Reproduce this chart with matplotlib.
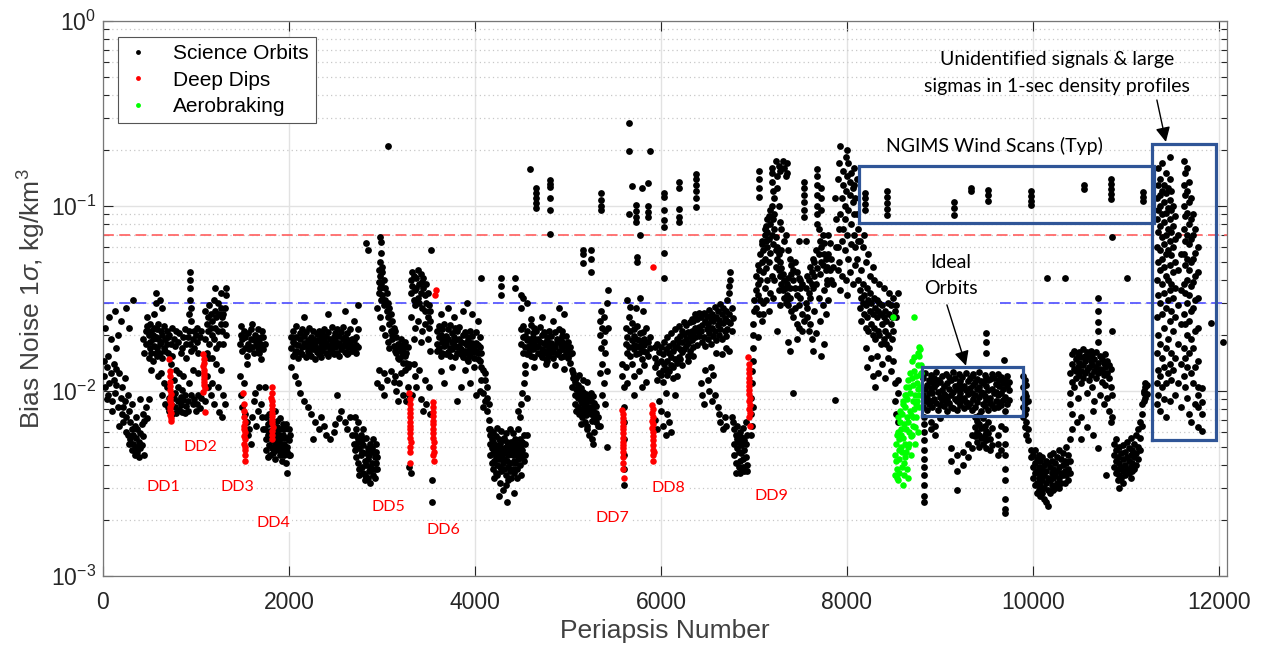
import matplotlib
matplotlib.use("Agg")
import matplotlib.pyplot as plt
from matplotlib.lines import Line2D
from matplotlib.ticker import LogLocator, NullFormatter, FixedLocator

plt.rcParams['font.family'] = ['Liberation Sans', 'DejaVu Sans']
plt.rcParams['mathtext.fontset'] = 'custom'
plt.rcParams['mathtext.rm'] = 'Liberation Sans'
plt.rcParams['mathtext.it'] = 'Liberation Sans:italic'
plt.rcParams['axes.unicode_minus'] = False

# ---- science orbits: (periapsis, [bias noise values]) -------------------
sci_early = [
    (10, [.012, .0145]), (25, [.0105, .022]), (40, [.0135, .009]), (55, [.0095, .0155]),
    (70, [.011, .025]), (85, [.0125, .019]), (100, [.0088, .0078]), (115, [.0115, .014]),
    (130, [.0098, .027]), (145, [.0108, .0132, .017]), (160, [.0082, .02]), (175, [.0125, .0065]),
    (190, [.0092, .024]), (205, [.0075, .0105]), (220, [.0068, .0082]), (235, [.0088, .0118]),
    (250, [.0072, .006, .028]), (265, [.0095, .0058]), (280, [.0078, .0052, .022]), (295, [.0068, .0055]),
    (310, [.0062, .0048, .0085]), (325, [.0058, .0052, .031]), (340, [.0045, .0065]),
    (355, [.005, .0072, .0056]), (370, [.0047, .0062]), (385, [.0053, .0044]),
    (400, [.0049, .0059, .009]), (415, [.0066, .0051]), (430, [.0057, .0075, .019]),
    (445, [.0069, .0045, .016]), (460, [.0082, .021, .018]), (475, [.0071, .0225, .025]),
    (490, [.009, .015, .02]), (505, [.017, .023, .0185]),
    (520, [.016, .021, .013]), (535, [.019, .0145, .02]), (550, [.0175, .022, .026]),
    (565, [.016, .0195, .034, .03]), (580, [.0215, .017, .0155]), (595, [.019, .023, .012]),
    (610, [.018, .016, .031]), (625, [.021, .0185, .0125]), (640, [.015, .02, .028, .0095]),
    (655, [.017, .0225, .011]), (670, [.0165, .019, .0085]), (685, [.018, .021, .0105]),
    (700, [.0195, .016, .0082]),
    (715, [.02, .0078, .0092]), (730, [.018, .0085, .014]), (745, [.022, .0075, .0155]),
    (760, [.019, .0092, .0115]), (775, [.0175, .0082, .0098]), (790, [.021, .0076, .013]),
    (805, [.0185, .0088, .0105]), (820, [.0205, .0079, .0125]), (835, [.016, .0093, .0084]),
    (850, [.017, .0077, .0101]), (865, [.0195, .0089, .012]), (880, [.0215, .0076, .0095]),
    (895, [.018, .0083, .015]), (910, [.0195, .0078, .0088]), (925, [.021, .011, .026]),
    (935, [.031, .036, .044, .04, .018]), (950, [.024, .028, .0165, .0095]),
    (965, [.019, .013, .0085]), (980, [.017, .009, .021]), (995, [.02, .0078]),
    (1010, [.0185, .022, .0085]), (1025, [.016, .0125, .0095]), (1040, [.0195, .0081]),
    (1055, [.021, .0092]),
    (1100, [.019, .027, .0088]), (1115, [.023, .016, .012]), (1130, [.021, .025, .0105]),
    (1145, [.018, .029, .015]), (1160, [.022, .026, .0095]), (1175, [.02, .024, .015, .011]),
    (1190, [.031, .019, .0085]), (1205, [.027, .022, .036]), (1220, [.017, .025, .014]),
    (1235, [.03, .021, .0105]), (1250, [.026, .018, .0077]), (1265, [.023, .028, .034, .013]),
    (1280, [.021, .025, .0072]), (1295, [.018, .026, .0095]), (1310, [.023, .028, .0085]),
    (1325, [.033, .036, .02]),
]

sci_1500 = [
    (1470, [.018, .012]), (1485, [.02, .0095, .0225]), (1500, [.0165, .0082, .019]),
    (1515, [.021, .011]), (1530, [.017, .0075, .0195]), (1545, [.0155, .0068, .014]),
    (1560, [.018, .0058, .0205]), (1575, [.0168, .0062]), (1590, [.019, .0052, .0215]),
    (1605, [.0172, .0072, .023]), (1620, [.0188, .0088, .016]), (1635, [.02, .0098]),
    (1650, [.0178, .0065, .0195]), (1665, [.0215, .0078, .017]), (1680, [.016, .0105, .0185]),
    (1695, [.0195, .0085, .0148]), (1710, [.0178, .0072, .021]), (1725, [.0195, .0062, .0168]),
    (1740, [.018, .0105, .0062]),
    (1755, [.0055, .0072, .0048]), (1770, [.0066, .0044, .0058]), (1785, [.0051, .0075, .006]),
    (1800, [.0045, .0061, .0068]), (1815, [.0054, .0049]), (1830, [.0068, .0057, .0046]),
    (1845, [.0052, .0078, .0043]), (1860, [.006, .0055, .0048]), (1875, [.0064, .005, .0069]),
    (1890, [.0048, .0058, .0053]), (1905, [.0045, .0062, .0071]), (1920, [.0056, .0042, .005]),
    (1935, [.0066, .0047, .0058]), (1950, [.0045, .0062, .0052]), (1965, [.0056, .0041, .0066]),
    (1980, [.005, .0047, .0036]), (1995, [.0054, .0045, .0062]), (2010, [.0045, .0058]),
    (2020, [.017, .0195, .0135]), (2040, [.0155, .0185, .021]), (2060, [.016, .018, .012]),
    (2080, [.0225, .0165, .0195]), (2100, [.015, .0178, .011]), (2120, [.0205, .0162, .019, .0098]),
    (2140, [.0172, .0215, .0158]), (2160, [.0182, .0198, .025, .0088]), (2180, [.0152, .0176, .0208]),
    (2200, [.0165, .0188, .017, .0082]), (2220, [.0218, .016, .0185]), (2240, [.0195, .0155, .0178, .0075]),
    (2260, [.021, .0168, .0192, .0055]), (2280, [.0175, .0148, .0182, .0068]), (2300, [.0202, .0162, .0188]),
    (2320, [.017, .0212, .0158, .0062]), (2340, [.0185, .0196, .0152, .0072]), (2360, [.0178, .0205, .0165]),
    (2380, [.0188, .0172, .0215, .0065]), (2400, [.016, .0182, .0198, .0058]), (2420, [.0155, .0176, .0208, .026]),
    (2440, [.0168, .019, .0174, .0055]), (2460, [.0222, .0162, .0186]), (2480, [.0195, .0158, .018, .006]),
    (2500, [.0205, .0172, .0188, .0066]), (2520, [.016, .0215, .0178, .0095]), (2540, [.0182, .0198, .0155, .0071]),
    (2560, [.0176, .0208, .0168, .0078]), (2580, [.019, .0174, .0222]), (2600, [.0162, .0186, .0195, .027, .0068]),
    (2620, [.0158, .018, .0205, .0062]), (2640, [.0172, .0188, .016]), (2660, [.0215, .0178, .0185, .0072]),
    (2680, [.0165, .0192, .0175, .0058]), (2700, [.0188, .0168, .024, .0052]), (2720, [.016, .0195, .0178]),
    (2740, [.0215, .0172, .029]),
]

sci_2700 = [
    (2710, [.0058, .0048, .0072]), (2725, [.0052, .0044, .0062]), (2740, [.0055, .0041, .0068]),
    (2755, [.0049, .0038, .0035]), (2770, [.0053, .0045, .0058]), (2785, [.0039, .0047, .0054]),
    (2800, [.0036, .0051, .0062]), (2815, [.0042, .0035, .0033]), (2830, [.0046, .004, .0056, .063]),
    (2845, [.0034, .0049, .0043, .058]), (2860, [.0037, .0045, .0048]), (2875, [.0039, .0052, .0032]),
    (2890, [.0041, .0049, .0038]), (2905, [.0047, .0055, .0035]), (2920, [.0038, .0044, .0034]),
    (2935, [.0052, .0041, .0047]), (2950, [.0038, .0044, .028, .011]),
    (2965, [.034, .039, .045, .013]), (2980, [.036, .042, .05, .068, .025]),
    (2990, [.031, .038, .064, .056, .0105]), (3005, [.044, .033, .022, .047]),
    (3020, [.04, .029, .0125, .0095]), (3035, [.036, .031, .02]), (3050, [.027, .034, .0115]),
    (3065, [.025, .03, .0185, .21]), (3080, [.023, .028, .017]), (3095, [.021, .026, .0128]),
    (3110, [.02, .024, .019]), (3125, [.022, .0175, .0112]), (3140, [.021, .0165, .012]),
    (3155, [.0195, .016, .01]), (3170, [.018, .015, .0088]), (3185, [.0172, .0148, .011]),
    (3200, [.0165, .019, .0125]), (3215, [.0155, .0178]), (3230, [.017, .0142, .0095]),
    (3245, [.0185, .0155, .013]), (3260, [.016, .0142, .0088]), (3275, [.0135, .0172, .0105]),
    (3290, [.014, .0095, .0039]),
    (3310, [.04, .034, .025, .0036]), (3325, [.044, .037, .0095]), (3340, [.031, .042, .019, .014]),
    (3355, [.035, .029, .022, .012]), (3370, [.041, .036, .0105]), (3385, [.032, .045, .024]),
    (3400, [.038, .03, .013]), (3415, [.043, .034, .0185, .009]), (3430, [.039, .028, .021]),
    (3445, [.036, .041, .0078]), (3460, [.033, .027, .023, .0115]), (3475, [.038, .03, .0085]),
    (3490, [.034, .025, .019]), (3505, [.029, .022, .0105]), (3520, [.027, .024, .0165, .0075]),
    (3530, [.058]), (3540, [.0025, .0033]),
]

sci_3600 = [
    (3590, [.018, .021, .0165]), (3610, [.0195, .0225, .017]), (3630, [.02, .0155, .026, .0128]),
    (3650, [.0185, .0215, .016]), (3670, [.019, .0175, .023, .011]), (3690, [.0158, .0198, .018]),
    (3710, [.0215, .0162, .028, .0192]), (3730, [.017, .0228, .0155]), (3750, [.0185, .0205, .0135, .0168]),
    (3770, [.0195, .0178, .025]), (3790, [.0218, .0152, .0188]), (3810, [.0172, .021, .016, .0088]),
    (3830, [.0192, .0175, .0222]), (3850, [.0158, .0185, .0168, .0105]), (3870, [.02, .0152, .027]),
    (3890, [.0182, .0165, .0208, .013]), (3910, [.0148, .0178, .016, .03]), (3930, [.0195, .0145, .0188]),
    (3950, [.017, .0212, .0155, .011]), (3970, [.0182, .0165, .0198, .026]), (3990, [.015, .0175, .0162, .0135]),
    (4010, [.0182, .0165, .0208, .0095]), (4030, [.0148, .0178, .016, .024]), (4050, [.0195, .0145, .0172, .01]),
    (4070, [.016, .0135, .0115]), (4090, [.013, .0098, .0082]), (4110, [.0115, .0088, .0125]),
    (4130, [.0105, .0078, .0092]), (4150, [.007, .0085, .0062]),
    (4165, [.0052, .0045, .0062, .0058]), (4180, [.0041, .0049, .0055]), (4195, [.0038, .0046, .006, .0053]),
    (4210, [.0042, .0048, .0034]), (4225, [.0036, .0051, .0044, .0057]), (4240, [.004, .0047, .0035, .0063]),
    (4255, [.0043, .0027, .005, .0055]), (4270, [.0039, .0046, .0052, .0032]), (4285, [.0037, .0045, .0049, .0061]),
    (4300, [.0041, .0054, .0029, .0047]), (4315, [.0038, .0046, .0043, .0056]), (4330, [.0035, .005, .0031, .0059]),
    (4345, [.0042, .0048, .0025, .0053]), (4360, [.0039, .0045, .0052, .0033]), (4375, [.0037, .0049, .0041, .0062]),
    (4390, [.0046, .0053, .0034]), (4405, [.0038, .0045, .0059, .0049]), (4420, [.0042, .0028, .0051, .0036]),
    (4435, [.0047, .0041, .0055]), (4450, [.0038, .0052, .0045, .0034]), (4465, [.0043, .0049, .0062, .0078]),
    (4480, [.004, .0046, .0055, .0072]), (4495, [.0051, .0044, .0035, .0085]), (4510, [.0048, .0053, .0098]),
    (4525, [.0042, .0058, .011]), (4540, [.0045, .0052, .0125]), (4555, [.0058, .0092]),
]

sci_4500 = [
    (4500, [.018, .0215, .028, .033]), (4520, [.016, .0195, .0225, .032]), (4540, [.0172, .0198, .0138]),
    (4560, [.0158, .0188, .021, .03]), (4580, [.0165, .0192, .0175]), (4600, [.0228, .0155, .0185, .0245]),
    (4620, [.0205, .0168, .0195]), (4640, [.0178, .0218, .0152, .0135]), (4660, [.0188, .0172, .021]),
    (4680, [.016, .0192, .0175]), (4700, [.0222, .0158, .0185]), (4720, [.0168, .02, .025, .0152]),
    (4740, [.0182, .0165, .0208]), (4760, [.0148, .0178, .016, .014]), (4780, [.0195, .0145, .0188]),
    (4800, [.017, .0212, .0155]), (4820, [.0182, .0165, .0198]), (4840, [.015, .0175, .0162, .024]),
    (4860, [.0208, .0172, .0138]), (4880, [.0185, .0158, .0192]), (4900, [.0165, .0215, .028]),
    (4920, [.0178, .0152, .0188]), (4940, [.0198, .0168, .0212]), (4960, [.0155, .0182, .0132, .026]),
    (4980, [.0175, .0162, .0198]), (5000, [.015, .0185, .0165]), (5020, [.0142, .0172, .0158]),
    (5040, [.013, .016, .0105]), (5055, [.0118, .0125]),
    (5075, [.0112, .0095, .0085]), (5090, [.0102, .0078, .0118]), (5105, [.0092, .0108, .0082]),
    (5120, [.0097, .0075, .0122]), (5135, [.0088, .0104, .008, .0066]), (5150, [.0094, .0072, .0086]),
    (5165, [.0099, .0077, .0115, .049, .055, .058]), (5180, [.009, .0068, .0083]),
    (5195, [.0096, .0074, .0087]), (5210, [.0065, .0079, .0112, .0062]), (5225, [.0092, .0082, .0058]),
    (5245, [.0088, .0075, .0098, .052, .058, .044]), (5255, [.0081, .0069, .0055]),
    (5270, [.0094, .0078, .0052]), (5285, [.0086, .0071, .006]), (5300, [.0076, .0068, .0083]),
    (5320, [.0072, .0065]),
    (5340, [.02, .024, .0125, .0065]), (5355, [.017, .027, .117, .108, .1, .095]),
    (5370, [.014, .022, .0095]), (5385, [.0185, .025, .011]), (5400, [.016, .021, .0085]),
    (5415, [.03, .0128, .005]), (5430, [.035, .022]),
]

sci_5600 = [
    (5580, [.014, .012]), (5600, [.0105, .0082, .0068, .0055, .0045, .0038, .0031]),
    (5620, [.018, .022, .0135]), (5640, [.016, .0195, .011, .031]), (5655, [.025, .0172, .28, .198, .091]),
    (5670, [.021, .0155, .0285]), (5690, [.0188, .0232, .014, .128]), (5705, [.0168, .0198, .0095]),
    (5715, [.0178, .0215, .012]), (5730, [.0158, .0192, .028, .101, .094, .087, .082]),
    (5745, [.0175, .0225, .053, .05]), (5760, [.016, .0188, .0128]), (5775, [.0172, .0205, .032, .07]),
    (5795, [.0148, .0182, .0105, .125]), (5805, [.0165, .0208, .027]), (5820, [.0178, .0192, .0138]),
    (5840, [.0162, .0218, .0112]), (5860, [.0185, .0155, .133, .1, .093, .087]), (5880, [.017, .0195, .198]),
    (5940, [.015, .0135, .007, .0172]), (5960, [.018, .0115, .0062, .0142]), (5980, [.0125, .0162, .0088]),
    (6000, [.0145, .0172, .0078, .0122]), (6020, [.013, .0158, .0112, .0065]),
    (6035, [.0185, .014, .117, .112, .095, .084, .077, .056, .041]),
    (6050, [.0168, .0132, .0098, .0058]), (6070, [.0145, .0195, .0075, .0122]),
    (6090, [.0175, .0128, .016, .0068]), (6110, [.0152, .0205, .006, .0138]),
    (6130, [.0182, .0135, .0165, .0118]), (6150, [.0148, .0215, .0172, .0095]),
    (6170, [.0192, .0142, .0172, .012]), (6190, [.0225, .0152, .0185, .135, .125, .096, .087, .082]),
    (6210, [.0198, .0148, .0168]), (6230, [.021, .0162, .0185, .0138]), (6250, [.0168, .0202, .0235]),
    (6270, [.0228, .0175, .0192]), (6290, [.0182, .0208, .0155, .0145]), (6310, [.0235, .0165, .0198]),
    (6330, [.0188, .021, .0245]), (6350, [.024, .0172, .0205, .0155]), (6370, [.0195, .0218, .0262]),
    (6380, [.149, .14, .13, .12, .11, .099]), (6390, [.0245, .0178, .0212]), (6410, [.0198, .0222, .0265]),
]

sci_6400 = [
    (6430, [.021, .025, .011]), (6445, [.0185, .0228, .0095]), (6460, [.0265, .0195, .0085]),
    (6475, [.024, .0175, .013]), (6490, [.0215, .0255]), (6505, [.019, .023, .0115]),
    (6520, [.0275, .0205, .01]), (6535, [.0245, .018, .0135]), (6550, [.022, .0262, .0088]),
    (6565, [.0198, .0238, .0122]), (6580, [.0285, .021, .0095]), (6595, [.025, .0188, .016]),
    (6610, [.0228, .027, .0082]), (6625, [.02, .0242, .0075]), (6640, [.0295, .0215, .0068]),
    (6655, [.026, .0192, .0158]), (6670, [.0232, .028, .0062]), (6685, [.021, .0248, .0072]),
    (6700, [.027, .0198, .0065, .017]), (6715, [.0238, .0215, .031]), (6730, [.026, .034, .037, .0165]),
    (6745, [.04, .044, .0232]), (6760, [.028, .021, .0072]), (6775, [.0248, .0068]),
    (6790, [.0052, .0045, .0062]), (6805, [.0058, .0041, .0036]), (6820, [.0049, .0055, .0065]),
    (6835, [.0039, .0047, .0053]), (6850, [.0042, .0057, .006, .0036]), (6865, [.0038, .0046, .0051]),
    (6880, [.0043, .0056, .0039, .0063]), (6895, [.0048, .0037, .0054]), (6910, [.0044, .0052, .0068]),
    (6925, [.004, .0058, .0037]),
    (6965, [.0058, .0075, .0092]), (6975, [.011, .0065, .0128]), (6985, [.0145, .0082, .017]),
    (6995, [.02, .023]), (7005, [.027, .031]),
]

sci_7000 = [
    (7020, [.035, .028, .042]), (7040, [.038, .048, .0195, .033]), (7055, [.045, .112, .125, .14, .155, .026]),
    (7070, [.055, .04, .031]), (7085, [.05, .062, .024, .065]), (7100, [.044, .058, .03, .026]),
    (7115, [.07, .052, .036, .075]), (7130, [.065, .078, .046, .031]), (7145, [.06, .072, .04, .085]),
    (7160, [.088, .066, .05, .027]), (7175, [.08, .095, .056, .034]), (7190, [.07, .1, .135, .15, .16, .042]),
    (7205, [.085, .062, .12, .032]), (7220, [.075, .09, .11, .04]), (7235, [.058, .068, .175, .047]),
    (7250, [.052, .06, .125, .145, .021]), (7265, [.045, .055, .1, .165, .035]), (7280, [.042, .05, .155, .082, .029]),
    (7295, [.038, .046, .075, .058]), (7310, [.035, .043, .175, .036]), (7325, [.032, .04, .065, .16]),
    (7340, [.036, .03, .145, .07]), (7355, [.038, .033, .17, .15, .031]), (7370, [.041, .029, .058, .0185]),
    (7385, [.036, .032, .052, .0165]), (7400, [.027, .043, .048]), (7420, [.025, .04, .045, .0098]),
    (7440, [.028, .036, .05]), (7460, [.023, .033, .044, .019]), (7480, [.022, .041, .029, .065]),
    (7500, [.036, .032, .04]), (7520, [.021, .038, .026]),
    (7540, [.087, .095, .105, .115, .125, .135, .024]), (7560, [.03, .036, .065]),
    (7575, [.042, .028, .025]), (7590, [.034, .04, .021]), (7605, [.047, .032, .023]),
    (7620, [.038, .044, .019]), (7635, [.052, .036, .0165]), (7650, [.042, .05, .027]),
    (7665, [.058, .038, .0205]), (7680, [.08, .09, .1, .115, .13, .145, .158, .046]),
    (7695, [.055, .075, .032]), (7710, [.065, .043, .024]), (7725, [.05, .06, .095, .11, .125, .0155]),
    (7740, [.07, .048, .029]), (7755, [.055, .063, .035, .018]), (7770, [.045, .052, .026]),
    (7785, [.04, .047, .038]), (7800, [.055, .031, .07]), (7815, [.063, .045]),
    (7830, [.052, .04]), (7850, [.047, .038]), (7870, [.0089, .11]), (7885, [.085, .06]),
]

sci_7900 = [
    (7900, [.06, .14, .045]), (7915, [.075, .05, .17]), (7930, [.09, .21, .035]),
    (7945, [.11, .065, .042]), (7960, [.13, .155, .075]), (7975, [.085, .058, .1]),
    (7990, [.12, .185, .04]), (8000, [.145, .2, .07, .033]), (8015, [.095, .052, .17]),
    (8030, [.115, .135, .044]), (8045, [.08, .062, .15]), (8060, [.105, .125, .038]),
    (8075, [.16, .09, .07, .13]), (8090, [.11, .06, .048]), (8105, [.14, .09, .052]),
    (8120, [.075, .065, .04]),
    (8140, [.035, .028, .065]), (8155, [.032, .024, .045]), (8170, [.03, .038, .06]),
    (8185, [.026, .033, .07]), (8200, [.022, .029, .05, .017]), (8215, [.036, .025, .0135]),
    (8230, [.031, .021, .055]), (8245, [.027, .034, .042]), (8260, [.023, .03, .015]),
    (8275, [.02, .026, .047, .012]), (8290, [.032, .022, .04]), (8305, [.028, .019, .0105]),
    (8320, [.025, .031, .0155]), (8335, [.021, .027, .0125]), (8350, [.03, .02, .038]),
    (8365, [.026, .018]), (8380, [.023, .029, .014]), (8395, [.019, .025, .036]),
    (8410, [.027, .021, .0118]), (8425, [.018, .024]), (8440, [.03, .02, .015]),
    (8455, [.026, .017, .034]), (8470, [.023, .029, .0128]), (8485, [.019, .025]),
    (8500, [.021, .032, .0145]), (8515, [.027, .011, .0088]), (8530, [.025, .029, .0075]),
    (8545, [.034, .0098, .0068, .0115]),
]

wind_scans = [
    (8190, [.118, .11, .103, .095]), (8430, [.12, .112, .104, .096, .089]),
    (9150, [.105, .097, .089]), (9335, [.125, .12]), (9520, [.122, .114, .106]),
    (9980, [.12, .113, .107, .101]), (10550, [.13, .124]),
    (10840, [.14, .132, .124, .116, .109]), (11180, [.119, .112, .106]),
]

sci_ideal = [
    (8820, [.0095, .0118, .0082]), (8840, [.0125, .0088, .0102]), (8860, [.0092, .0108, .0079]),
    (8880, [.0115, .0085, .0098]), (8900, [.0104, .0122, .0088]), (8920, [.0082, .0097, .0112]),
    (8940, [.0118, .0091, .0105]), (8960, [.0086, .0109, .0126]), (8980, [.0099, .0079, .0115]),
    (9000, [.0112, .0093, .0084]), (9020, [.0089, .0121, .0101]), (9040, [.0107, .0083, .0096]),
    (9060, [.0124, .0094, .0087]), (9080, [.0091, .0111, .0078]), (9100, [.0103, .0086, .0119]),
    (9120, [.0095, .0114, .0082]), (9140, [.0081, .0099, .0127]), (9160, [.0117, .009, .0106]),
    (9180, [.0088, .0102, .0079]), (9200, [.0109, .0123, .0093]), (9220, [.0084, .0097, .0113]),
    (9240, [.0119, .0089, .0104]), (9260, [.0092, .0107, .0081]), (9280, [.0101, .0125, .0087]),
    (9300, [.0113, .0083, .0096]), (9320, [.0086, .0104, .0118]), (9340, [.0098, .0121, .0079]),
    (9360, [.0108, .0091, .0124]), (9380, [.0082, .0112, .0095]), (9400, [.0116, .0087, .0102]),
    (9420, [.0093, .0105, .0126]), (9440, [.0078, .0099, .0113]), (9460, [.0111, .0085, .0097]),
    (9480, [.0122, .0094, .0083]), (9500, [.0089, .0107, .0118]), (9520, [.0101, .0079, .0114]),
    (9540, [.0116, .0092, .0086]), (9560, [.0084, .0103, .0124]), (9580, [.0097, .0118, .0081]),
    (9600, [.0109, .0088, .0099]), (9620, [.0123, .0095, .0082]), (9640, [.0087, .0106, .0115]),
    (9660, [.0098, .0119, .0084]), (9680, [.0111, .0089, .0102]), (9700, [.0093, .0114, .0078]),
    (9720, [.0106, .0085, .0121]), (9740, [.0089, .0101, .0112]),
    (9490, [.0205, .0185, .016]), (9685, [.0147]),
]

sci_9000_low = [
    (8830, [.0072, .0066, .006, .0054, .0048, .0043, .0039, .0035, .0031, .0027, .0025]),
    (8900, [.0068, .0062]), (8950, [.0065, .0058]), (9000, [.0071]),
    (9120, [.0049, .0042]), (9180, [.0045, .0037, .0029]), (9250, [.0047, .004]),
    (9300, [.0052, .0044]), (9340, [.0058, .0049]),
    (9380, [.0072, .0064, .0057]), (9400, [.0069, .006, .0053]), (9420, [.0074, .0066, .0058, .005]),
    (9440, [.0063, .0056]), (9460, [.0071, .0052]), (9480, [.0065, .0058]),
    (9500, [.0061, .0054, .0049]), (9520, [.0068, .0059]), (9540, [.0055, .0048]),
    (9560, [.0063, .0051]), (9620, [.0058, .0052, .0045]), (9660, [.0065, .0048]),
    (9700, [.0062, .0052, .0045, .0038, .0033, .0026, .0023, .0022]),
    (9890, [.012, .0105, .0092, .0082, .0072]), (9910, [.0115, .0098, .0086, .0075, .0064]),
    (9930, [.0108, .0094, .008, .0068, .0058]), (9950, [.0088, .0062, .0054]), (9975, [.0048, .0044]),
]

sci_10000 = [
    (10000, [.0045, .0039, .0034]), (10020, [.0041, .0036, .0031, .0048]), (10040, [.0043, .0037, .0032, .0028]),
    (10060, [.0039, .0034, .0045, .0029]), (10080, [.0042, .0036, .0031, .0027]), (10100, [.0038, .0033, .0044, .0028]),
    (10120, [.004, .0035, .003, .0026]), (10140, [.0037, .0032, .0042, .0025]), (10150, [.041]),
    (10160, [.0041, .0034, .0029, .0024]), (10180, [.0039, .0033, .0045, .0028]), (10200, [.0042, .0036, .0031]),
    (10220, [.0038, .0034, .0046, .0029]), (10240, [.0041, .0035, .003]), (10260, [.0044, .0037, .0032]),
    (10280, [.0039, .0034, .0048, .003]), (10300, [.0043, .0036, .0032]), (10320, [.004, .0035, .0046]),
    (10340, [.0037, .0042, .0032]), (10350, [.041]), (10360, [.0041, .0035, .005]),
    (10380, [.0045, .0038, .0033]), (10400, [.0042, .0055, .0036]),
]

sci_10400 = [
    (10400, [.0125, .0098, .0085]), (10420, [.014, .0112, .0158, .0075, .0062]), (10440, [.0132, .0165, .0105]),
    (10460, [.0118, .0148, .0128]), (10470, [.0068]), (10480, [.0155, .0135, .0092]),
    (10500, [.0142, .0122, .0162]), (10520, [.0128, .0152, .011, .0072, .0055]), (10540, [.0168, .0138, .0118]),
    (10560, [.0145, .0125, .0155]), (10580, [.013, .0162, .0098, .0064]), (10600, [.0152, .0135, .0115]),
    (10620, [.0122, .0145, .0165]), (10640, [.0138, .0158, .0105]), (10650, [.0058, .0078]),
    (10660, [.0148, .0128, .0088]), (10680, [.0162, .0135, .0118]),
    (10700, [.032, .027, .0235, .021, .0185, .0142, .0125, .0049]), (10720, [.0155, .0132, .0095]),
    (10740, [.0128, .0148, .0112]), (10760, [.0142, .0122, .0085]), (10780, [.0135, .0158, .0108]),
    (10790, [.0035]), (10800, [.0125, .0145, .0092]), (10820, [.0118, .0138, .0078]),
    (10840, [.0132, .0105, .0068]), (10850, [.068]), (10855, [.021, .0095, .0072]),
]

sci_11000 = [
    (10870, [.0052, .0045, .0039]), (10890, [.0048, .0042, .0036, .0055]), (10910, [.0044, .0038, .0033]),
    (10930, [.005, .0041, .0035, .003]), (10950, [.0046, .0039, .0034]), (10970, [.0043, .0037, .0051, .0032]),
    (10990, [.0047, .004, .0035]), (11010, [.0044, .0038, .0053, .041]), (11030, [.0049, .0042, .0036]),
    (11050, [.0045, .0039, .0034, .0056]), (11070, [.0048, .0041, .0037]), (11090, [.0052, .0044, .0038]),
    (11110, [.0046, .004, .0058]), (11130, [.005, .0043, .0062]), (11150, [.0068, .0056, .0048]),
    (11170, [.0085, .0075, .0065]), (11190, [.0098, .0088, .01]), (11210, [.0105, .0092, .011]),
    (11230, [.0096, .0108]),
]

sci_box = [
    (11330, [.11, .085, .06, .04, .025, .016, .011, .0085]),
    (11350, [.16, .13, .095, .072, .05, .033, .02, .013, .0095]),
    (11370, [.14, .115, .1, .078, .058, .045, .03, .018, .012, .0078]),
    (11390, [.17, .12, .09, .068, .052, .038, .026, .015, .0105]),
    (11410, [.13, .105, .082, .062, .047, .034, .022, .0135, .009]),
    (11430, [.15, .118, .092, .07, .055, .042, .028, .017, .011, .0072]),
    (11450, [.125, .098, .075, .058, .04, .031, .019, .0125]),
    (11470, [.185, .14, .108, .085, .065, .048, .035, .024, .014, .0088]),
    (11490, [.12, .095, .072, .054, .038, .027, .016, .0115]),
    (11510, [.1, .078, .06, .044, .032, .021, .013]),
    (11530, [.088, .066, .05, .036, .025, .015, .0095]),
    (11560, [.07, .045, .029, .018, .011]),
    (11590, [.055, .035, .023, .014, .0082]),
    (11620, [.175, .13, .1, .075, .055, .038, .026, .017, .012]),
    (11640, [.15, .115, .088, .065, .048, .034, .023, .015, .0105]),
    (11660, [.16, .12, .092, .07, .052, .04, .03, .02, .0135, .0092]),
    (11680, [.135, .105, .08, .062, .045, .033, .024, .016, .0075]),
    (11700, [.11, .085, .066, .05, .037, .027, .019, .0125, .0068]),
    (11720, [.09, .07, .052, .039, .028, .017, .011]),
    (11745, [.075, .056, .042, .031, .021, .0135, .0085]),
    (11770, [.06, .044, .032, .022, .0145, .0105, .0095, .0082, .0064]),
    (11820, [.0104, .0087, .0075, .0061]), (11920, [.0233]), (12040, [.0185]),
]

sci_high = [
    (4065, [.041]), (4280, [.041, .037, .033]), (4430, [.041, .036]),
    (4590, [.158]), (4655, [.125, .118, .11, .104, .098]),
    (4805, [.138, .132, .127, .11, .095, .071]),
]

# ---- deep dips (red) and aerobraking (green): (periapsis, value) ---------
deep_dips = [
    (715, .0148), (720, .0128), (722, .012), (725, .0112), (718, .0106), (723, .0101), (727, .0096),
    (720, .0092), (724, .0088), (728, .0085), (721, .0082), (726, .0079), (730, .0076), (723, .0074),
    (728, .0071), (732, .0069),
    (1080, .0158), (1082, .0149), (1084, .0142), (1078, .0136), (1086, .013), (1081, .0125),
    (1088, .012), (1083, .0116), (1090, .0112), (1085, .0108), (1092, .0104), (1075, .0099), (1095, .0077),
    (1510, .0098), (1515, .0085), (1520, .0078), (1518, .0072), (1522, .0068), (1516, .0065),
    (1521, .0062), (1524, .006), (1519, .0057), (1523, .0055), (1520, .0052), (1525, .005),
    (1522, .0048), (1526, .0045), (1524, .0042),
    (1815, .0105), (1818, .0098), (1812, .0092), (1820, .0088), (1816, .0084), (1822, .008),
    (1818, .0076), (1814, .0073), (1821, .007), (1817, .0067), (1823, .0064), (1819, .0061),
    (1816, .0058), (1822, .0055),
    (3295, .0098), (3300, .009), (3298, .0085), (3303, .008), (3300, .0076), (3305, .0072),
    (3299, .0068), (3304, .0065), (3301, .0062), (3306, .0059), (3302, .0056), (3307, .0053),
    (3300, .005), (3305, .0047), (3303, .0041),
    (3545, .0087), (3550, .0082), (3548, .0077), (3553, .0073), (3547, .0069), (3552, .0066),
    (3549, .0062), (3554, .0059), (3550, .0056), (3555, .0053), (3551, .005), (3556, .0047),
    (3552, .0045), (3557, .0042), (3575, .033), (3580, .035),
    (5585, .0079), (5590, .0075), (5588, .0071), (5593, .0068), (5587, .0065), (5592, .0062),
    (5589, .0059), (5594, .0056), (5590, .0053), (5595, .0051), (5591, .0049), (5596, .0047),
    (5592, .0044), (5597, .0041), (5594, .0038), (5598, .0034),
    (5905, .0084), (5910, .008), (5908, .0076), (5913, .0072), (5907, .0069), (5912, .0066),
    (5909, .0063), (5914, .006), (5910, .0057), (5915, .0054), (5911, .0051), (5916, .0048),
    (5912, .0045), (5917, .0042), (5920, .0047), (5915, .047),
    (6940, .0152), (6945, .014), (6942, .0132), (6948, .0125), (6944, .0118), (6950, .0112),
    (6946, .0106), (6952, .0101), (6947, .0096), (6953, .0092), (6949, .0088), (6955, .0084),
    (6950, .008), (6956, .0076), (6951, .0072), (6957, .0065),
]

aerobraking = [
    (8520, .0045), (8530, .0052), (8540, .0038), (8550, .006), (8560, .0043), (8570, .0068),
    (8580, .005), (8590, .0075), (8600, .0056), (8610, .0041), (8620, .0082), (8630, .0062),
    (8640, .0047), (8650, .009), (8660, .0068), (8670, .0052), (8680, .0098), (8690, .0074),
    (8700, .0058), (8710, .0108), (8720, .008), (8730, .0064), (8740, .012), (8750, .0088),
    (8760, .0138), (8770, .0095), (8780, .0155), (8790, .0105), (8800, .0125), (8535, .0034),
    (8565, .0036), (8595, .0039), (8625, .0044), (8655, .005), (8685, .0057), (8715, .0065),
    (8745, .0072), (8775, .0082), (8545, .0072), (8575, .0078), (8605, .0088), (8635, .0095),
    (8665, .0105), (8695, .0118), (8725, .0128), (8755, .011), (8785, .0122), (8765, .016),
    (8775, .0172), (8790, .0168), (8555, .0048), (8585, .0058), (8615, .0066), (8645, .0072),
    (8675, .0078), (8705, .0088), (8735, .0095), (8765, .0102), (8795, .0138), (8700, .0145),
    (8720, .0152), (8680, .0125), (8660, .0115), (8640, .0105), (8620, .0095), (8600, .0085),
    (8580, .0062), (8560, .0055), (8540, .0058), (8520, .0035), (8610, .0035), (8650, .0038),
    (8690, .0045), (8730, .0052), (8760, .006), (8530, .0042), (8590, .0047), (8625, .0052),
    (8670, .006), (8710, .0072), (8745, .0085), (8550, .0033), (8600, .0031), (8660, .0034),
    (8500, .025), (8720, .025),
]

# reference levels
red_level = 0.07
blue_level = 0.03
blue_gap = (8540, 9650)

# annotation boxes: (x0, x1, y0, y1)
box_wind = (8129, 11301, 0.081, 0.164)
box_unident = (11280, 11968, 0.00543, 0.216)
box_ideal = (8806, 9892, 0.00732, 0.01349)

dd_labels = [("DD1", 645, .00303), ("DD2", 1043, .00498), ("DD3", 1441, .00303),
             ("DD4", 1828, .00193), ("DD5", 3065, .00236), ("DD6", 3656, .00177),
             ("DD7", 5473, .00206), ("DD8", 6075, .00299), ("DD9", 7183, .0027)]


def flatten(groups):
    xs, ys = [], []
    for g in groups:
        for x, vals in g:
            xs += [x] * len(vals)
            ys += list(vals)
    return xs, ys


sx, sy = flatten([sci_early, sci_1500, sci_2700, sci_3600, sci_4500, sci_5600, sci_6400,
                  sci_7000, sci_7900, wind_scans, sci_ideal, sci_9000_low, sci_10000,
                  sci_10400, sci_11000, sci_box, sci_high])
rx, ry = zip(*deep_dips)
gx, gy = zip(*aerobraking)

fig = plt.figure(figsize=(12.62, 6.46), dpi=100)
ax = fig.add_axes([0.0816, 0.1084, 0.8906, 0.8591])
ax.set_yscale('log')
ax.set_xlim(0, 12086)
ax.set_ylim(1e-3, 1)

ax.scatter(sx, sy, s=24, c='black', linewidths=0, zorder=3)
ax.scatter(rx, ry, s=22, c='#ff0000', linewidths=0, zorder=4)
ax.scatter(gx, gy, s=22, c='#00ff00', linewidths=0, zorder=4)

ax.axhline(red_level, color='#ff6a6a', lw=1.3, dashes=(6, 3), zorder=2)
ax.plot([0, blue_gap[0]], [blue_level] * 2, color='#5a5aff', lw=1.3, dashes=(6, 3), zorder=2)
ax.plot([blue_gap[1], 12086], [blue_level] * 2, color='#5a5aff', lw=1.3, dashes=(6, 3), zorder=2)

for x0, x1, y0, y1 in (box_wind, box_unident, box_ideal):
    ax.plot([x0, x1, x1, x0, x0], [y0, y0, y1, y1, y0], color='#2f5597', lw=2.3,
            solid_joinstyle='miter', zorder=5)

note_font = ['Lato', 'DejaVu Sans']
ax.text(10258, 0.62, "Unidentified signals & large", ha='center', va='center',
        fontsize=14, family=note_font, zorder=6)
ax.text(10258, 0.44, "sigmas in 1-sec density profiles", ha='center', va='center',
        fontsize=14, family=note_font, zorder=6)
ax.text(9581, 0.211, "NGIMS Wind Scans (Typ)", ha='center', va='center',
        fontsize=14, family=note_font, zorder=6)
ax.text(9118, 0.0492, "Ideal", ha='center', va='center', fontsize=14, family=note_font, zorder=6)
ax.text(9118, 0.0356, "Orbits", ha='center', va='center', fontsize=14, family=note_font, zorder=6)

arrow = dict(arrowstyle='-|>', color='black', lw=1, mutation_scale=22, shrinkA=0, shrinkB=0)
ax.annotate("", xy=(11430, 0.222), xytext=(11333, 0.374), arrowprops=arrow, zorder=6)
ax.annotate("", xy=(9280, 0.0137), xytext=(9075, 0.0292), arrowprops=arrow, zorder=6)

for lab, x, y in dd_labels:
    ax.text(x, y, lab, color='#ff0000', ha='center', va='center', fontsize=11.5,
            family=note_font, zorder=6,
            bbox=dict(facecolor='white', edgecolor='none', pad=1.5))

# axes styling (MATLAB-like)
ax.xaxis.set_major_locator(FixedLocator([0, 2000, 4000, 6000, 8000, 10000, 12000]))
ax.yaxis.set_major_locator(LogLocator(base=10))
ax.yaxis.set_minor_locator(LogLocator(base=10, subs=range(2, 10)))
ax.yaxis.set_minor_formatter(NullFormatter())
ax.grid(which='major', color='#e2e2e2', lw=1.0, zorder=0)
ax.grid(which='minor', axis='y', color='#c8c8c8', lw=0.9, linestyle=(0, (1, 2.5)), zorder=0)
ax.set_axisbelow(True)
ax.tick_params(which='both', direction='in', top=True, right=True, colors='#262626',
               labelsize=16.5)
ax.tick_params(which='major', length=7, width=0.8)
ax.tick_params(which='minor', length=4, width=0.8)
ax.tick_params(axis='x', pad=11)
ax.tick_params(axis='y', pad=5)
for sp in ax.spines.values():
    sp.set_color('#777777')
    sp.set_linewidth(0.9)

ax.set_xlabel("Periapsis Number", fontsize=19, color='#404040', va='top')
ax.xaxis.set_label_coords(0.5, -0.077)
ax.set_ylabel(r"Bias Noise 1$\sigma$, kg/km$^3$", fontsize=19, color='#404040')
ax.yaxis.set_label_coords(-0.049, 0.5)

handles = [Line2D([], [], ls='none', marker='o', ms=3.5, color=c, mec='none')
           for c in ('black', '#ff0000', '#00ff00')]
leg = ax.legend(handles, ["Science Orbits", "Deep Dips", "Aerobraking"], loc='upper left',
                bbox_to_anchor=(0.0133, 0.971), borderaxespad=0, fontsize=15,
                frameon=True, fancybox=False, framealpha=1, edgecolor='#555555',
                handlelength=1.2, handletextpad=1.1, borderpad=0.35, labelspacing=0.35)
leg.get_frame().set_linewidth(0.8)
leg.set_zorder(7)

fig.savefig("out.png", dpi=100)
